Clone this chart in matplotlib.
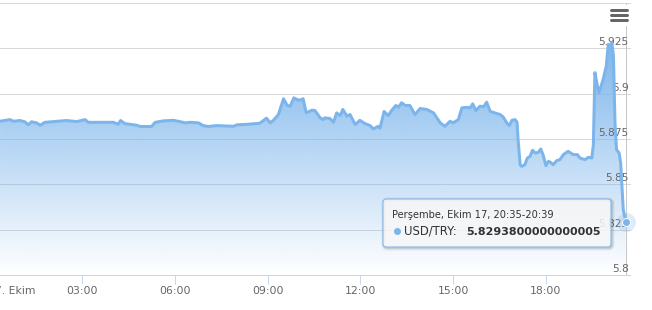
import matplotlib
matplotlib.use("Agg")
import matplotlib.pyplot as plt
import matplotlib.transforms as mtransforms
from matplotlib.patches import Polygon, FancyBboxPatch, Rectangle
from matplotlib.lines import Line2D
import numpy as np

# ---------------- data ----------------
minutes = [21, 40, 47, 60, 69, 76, 82, 92, 99, 108, 124, 150, 170, 186, 192, 215, 241, 250,
           255, 263, 286, 293, 315, 322, 338, 357, 370, 380, 390, 406, 415, 425, 441, 474,
           480, 500, 525, 538, 545, 551, 561, 571, 578, 584, 591, 597, 603, 609, 615, 626,
           632, 642, 648, 651, 661, 668, 674, 681, 686, 694, 700, 710, 719, 729, 739, 745,
           755, 758, 766, 774, 781, 789, 794, 800, 807, 816, 826, 836, 849, 862, 875, 884,
           894, 900, 910, 917, 926, 933, 938, 944, 952, 959, 965, 972, 981, 991, 997, 1004,
           1009, 1014, 1020, 1024, 1026, 1030, 1033, 1039, 1044, 1049, 1054, 1059, 1065,
           1070, 1075, 1080, 1085, 1089, 1094, 1101, 1107, 1114, 1123, 1133, 1141, 1146,
           1156, 1162, 1169, 1172, 1175, 1180, 1183, 1188, 1191, 1197, 1201, 1204, 1208,
           1211, 1214, 1217, 1222, 1225, 1230, 1235]
values = [5.8848, 5.8857, 5.8848, 5.8852, 5.8845, 5.8828, 5.8845, 5.8839, 5.8826, 5.8842,
          5.8846, 5.8852, 5.8846, 5.8857, 5.8842, 5.8842, 5.8842, 5.8831, 5.8852, 5.8835,
          5.8826, 5.8819, 5.8819, 5.8842, 5.8850, 5.8853, 5.8846, 5.8839, 5.8842, 5.8839,
          5.8824, 5.8819, 5.8824, 5.8820, 5.8828, 5.8831, 5.8837, 5.8865, 5.8839, 5.8852,
          5.8885, 5.8972, 5.8935, 5.8931, 5.8977, 5.8968, 5.8964, 5.8972, 5.8894, 5.8909,
          5.8907, 5.8867, 5.8857, 5.8867, 5.8863, 5.8842, 5.8894, 5.8879, 5.8913, 5.8876,
          5.8885, 5.8830, 5.8853, 5.8835, 5.8824, 5.8806, 5.8820, 5.8809, 5.8902, 5.8879,
          5.8909, 5.8935, 5.8925, 5.8950, 5.8935, 5.8935, 5.8885, 5.8918, 5.8913, 5.8894,
          5.8839, 5.8820, 5.8848, 5.8839, 5.8857, 5.8922, 5.8925, 5.8922, 5.8944, 5.8907,
          5.8931, 5.8928, 5.8953, 5.8902, 5.8894, 5.8885, 5.8872, 5.8839, 5.8824, 5.8853,
          5.8857, 5.8842, 5.8747, 5.8608, 5.8599, 5.8608, 5.8645, 5.8654, 5.8688, 5.8673,
          5.8676, 5.8695, 5.8658, 5.8603, 5.8627, 5.8621, 5.8608, 5.8631, 5.8636, 5.8664,
          5.8682, 5.8664, 5.8664, 5.8645, 5.8636, 5.8649, 5.8645, 5.8719, 5.9116, 5.9041,
          5.9005, 5.9051, 5.9079, 5.9152, 5.9272, 5.9254, 5.9282, 5.9207, 5.8839, 5.8691,
          5.8673, 5.8618, 5.8360, 5.82938]

tick_minutes = [180, 360, 540, 720, 900, 1080]
tick_labels = ["03:00", "06:00", "09:00", "12:00", "15:00", "18:00"]
date_label = "17. Ekim"
y_ticks = [5.8, 5.825, 5.85, 5.875, 5.9, 5.925, 5.95]
y_tick_labels = ["5.8", "5.825", "5.85", "5.875", "5.9", "5.925", ""]
series_name = "USD/TRY"
tooltip_header = "Perşembe, Ekim 17, 20:35-20:39"
tooltip_value = "5.8293800000000005"

# ---------------- style ----------------
plt.rcParams['font.family'] = ['DejaVu Sans']
W, H = 652, 310
LINE = '#7cb5ec'
XMIN, XMAX = 20.95, 1243.1
YMIN, YMAX = 5.8, 5.95
PX = 72 / 100.0  # points per pixel

fig = plt.figure(figsize=(W / 100, H / 100), dpi=100)
fig.patch.set_facecolor('white')
ax = fig.add_axes([0, 35 / H, 630 / W, 272 / H])
ax.set_xlim(XMIN, XMAX)
ax.set_ylim(YMIN, YMAX)
ax.set_facecolor('none')
for s in ['top', 'right', 'left']:
    ax.spines[s].set_visible(False)
ax.spines['bottom'].set_color('#ccd6eb')
ax.spines['bottom'].set_linewidth(1 * PX)
ax.spines['bottom'].set_zorder(3)

# pixel transform (origin top-left)
pxT = mtransforms.Affine2D().scale(1 / W, -1 / H).translate(0, 1) + fig.transFigure

# grid lines
for v in y_ticks[1:]:
    ax.axhline(v, color='#d8d8d8', lw=1 * PX, zorder=0.5, clip_on=False)
ax.set_yticks([])

# x ticks
ax.set_xticks(tick_minutes, tick_labels)
ax.tick_params(axis='x', direction='out', length=9 * PX, width=1 * PX, color='#ccd6eb',
               labelcolor='#666666', labelsize=7.8, pad=1.5)
ax.annotate(date_label, xy=(36, 0), xycoords=('figure pixels', 'axes fraction'),
            xytext=(0, -(9 * PX + 1.5)), textcoords='offset points', ha='right', va='top',
            color='#666666', fontsize=7.8, annotation_clip=False)

# y labels (inside, right)
for v, lab in zip(y_ticks, y_tick_labels):
    if lab:
        ax.annotate(lab, xy=(628.5, v), xycoords=('figure pixels', 'data'),
                    xytext=(0, 2.2 * PX + 0.5), textcoords='offset points', ha='right',
                    va='baseline', color='#666666', fontsize=7.7, zorder=2,
                    annotation_clip=False)

# area with gradient
x = np.array(minutes, dtype=float)
y = np.array(values, dtype=float)
vmax = y.max()
verts = [(x[0], YMIN)] + list(zip(x, y)) + [(x[-1], YMIN)]
poly = Polygon(verts, closed=True, facecolor='none', edgecolor='none')
ax.add_patch(poly)
n = 256
rgb = np.array([124, 181, 236]) / 255.0
grad = np.zeros((n, 1, 4))
grad[:, 0, :3] = rgb
grad[:, 0, 3] = np.linspace(0.0, 1.0, n)
img = ax.imshow(grad, extent=[x[0], x[-1], YMIN, vmax], origin='lower', aspect='auto',
                zorder=1, interpolation='bilinear')
img.set_clip_path(poly)
ax.set_xlim(XMIN, XMAX)
ax.set_ylim(YMIN, YMAX)

ax.plot(x, y, color=LINE, lw=3 * PX, zorder=2, solid_joinstyle='round',
        solid_capstyle='round', clip_on=False)

# crosshair
ax.plot([x[-1], x[-1]], [YMIN, YMAX], color='#c8c8c8', lw=1 * PX, zorder=1.5)

# hover marker
ax.plot([x[-1]], [y[-1]], 'o', ms=19 * PX, color=LINE, alpha=0.25, mew=0, zorder=4,
        clip_on=False)
ax.plot([x[-1]], [y[-1]], 'o', ms=8 * PX, mfc=LINE, mec='white', mew=1 * PX, zorder=4.1,
        clip_on=False)

# menu button
fig.add_artist(Rectangle((604, 5), 27, 21, transform=pxT, facecolor='white',
                         edgecolor='none', zorder=5))
for yy in [10, 15, 20]:
    fig.add_artist(Line2D([611, 626.5], [yy, yy], transform=pxT, color='#666666',
                          lw=3 * PX, solid_capstyle='round', zorder=6))

# tooltip
for off, a, lw in [(1, 0.05, 5), (1, 0.07, 3), (1, 0.1, 1)]:
    fig.add_artist(FancyBboxPatch((383 + off, 199 + off), 228, 48,
                                  boxstyle='round,pad=0,rounding_size=3', transform=pxT,
                                  facecolor='none', edgecolor=(0, 0, 0, a), lw=lw * PX,
                                  zorder=7))
fig.add_artist(FancyBboxPatch((383, 199), 228, 48, boxstyle='round,pad=0,rounding_size=3',
                              transform=pxT, facecolor=(247 / 255, 247 / 255, 247 / 255, 0.85),
                              edgecolor=LINE, lw=1 * PX, zorder=8))
fig.text(392, 218.5, tooltip_header, transform=pxT, fontsize=7.1, color='#333333',
         va='baseline', ha='left', zorder=9)
fig.add_artist(Line2D([396.5], [230.5], transform=pxT, marker='o', ms=7 * PX, color=LINE,
                      mew=0, zorder=9))
fig.text(404.3, 235, series_name + ": ", transform=pxT, fontsize=8.4, color='#333333',
         va='baseline', ha='left', zorder=9)
fig.text(465.7, 235, tooltip_value, transform=pxT, fontsize=8.0, color='#333333',
         fontweight='bold', va='baseline', ha='left', zorder=9)

fig.savefig('out.png', dpi=100)
